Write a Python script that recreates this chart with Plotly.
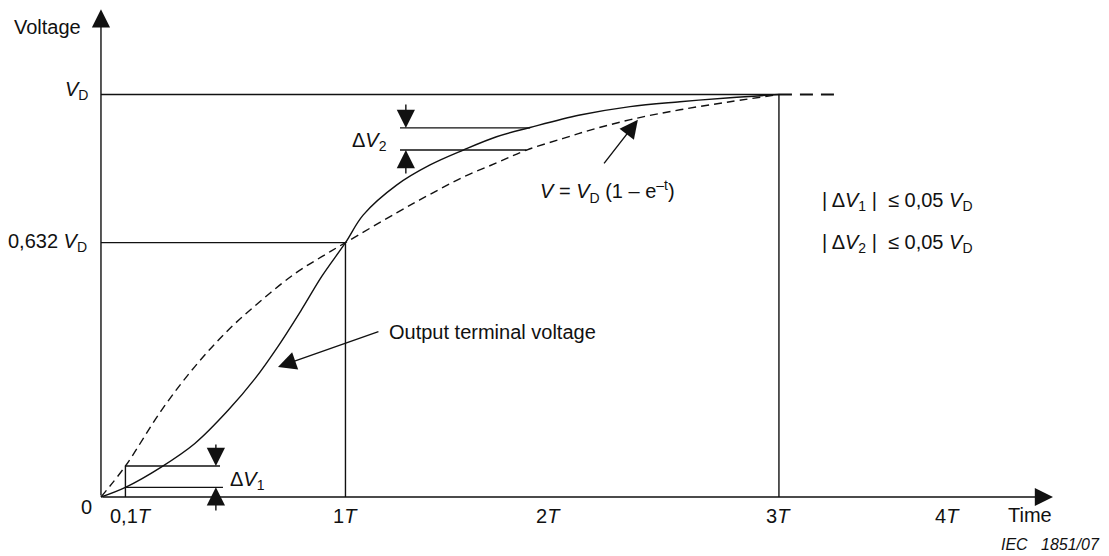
import plotly.graph_objects as go

# ---------------- data (schematic units: x in T, y in fractions of V_D) ----------------
VD = 1.0
V632 = 0.632
T01, T1, T2, T3, T4 = 0.1, 1.0, 1.83, 2.773, 3.464
tick_pos = [T01, T1, T2, T3, T4]
tick_labels = ["0,1<i>T</i>", "1<i>T</i>", "2<i>T</i>", "3<i>T</i>", "4<i>T</i>"]

# dashed reference curve V = VD(1 - e^-t) as drawn
t_ref = [0, 0.1, 0.248, 0.384, 0.521, 0.657, 0.793, 0.903, 1.0, 1.209, 1.346, 1.482,
         1.618, 1.741, 1.891, 2.027, 2.191, 2.368, 2.573, 2.773]
v_ref = [0, 0.077, 0.216, 0.324, 0.415, 0.489, 0.555, 0.597, 0.632, 0.706, 0.752, 0.795,
         0.830, 0.862, 0.891, 0.916, 0.941, 0.962, 0.982, 1.0]

# solid output terminal voltage
t_out = [0, 0.1, 0.248, 0.384, 0.521, 0.630, 0.725, 0.821, 0.903, 1.0, 1.073, 1.209,
         1.346, 1.482, 1.618, 1.755, 1.959, 2.164, 2.368, 2.573, 2.773]
v_out = [0, 0.024, 0.075, 0.133, 0.216, 0.294, 0.375, 0.466, 0.548, 0.632, 0.701, 0.775,
         0.825, 0.862, 0.895, 0.918, 0.949, 0.970, 0.982, 0.992, 1.0]

# dashed continuation beyond 3T
ext_x = [T3, 3.03]

# delta V1 markers
dv1_hi, dv1_lo = 0.077, 0.024
dv1_hi_end, dv1_lo_end = 0.487, 0.499
dv1_arrow_x = 0.470
dv1_tail_top, dv1_tail_bot = 0.134, -0.037

# delta V2 markers
dv2_hi, dv2_lo = 0.917, 0.862
dv2_start = 1.223
dv2_hi_end, dv2_lo_end = 1.755, 1.741
dv2_arrow_x = 1.247
dv2_tail_top, dv2_tail_bot = 0.979, 0.800

# axis extents
x_axis_end = 3.894
y_axis_end = 1.212

FONT = "Liberation Sans, Arial, Helvetica, sans-serif"
INK = "#111111"
LW = 1.4

fig = go.Figure()

def line(xs, ys, dash="solid", width=LW, shape="linear"):
    fig.add_trace(go.Scatter(x=xs, y=ys, mode="lines", hoverinfo="skip", showlegend=False,
                             line=dict(color=INK, width=width, dash=dash, shape=shape,
                                       smoothing=1.0 if shape == "spline" else None)))

# curves
line(t_ref, v_ref, dash="8px,5px", shape="spline")
line(t_out, v_out, shape="spline")
line(ext_x, [VD, VD], dash="13px,8px", width=1.8)

# reference lines
line([0, T3], [VD, VD])
line([0, T1], [V632, V632])
line([T1, T1], [0, V632])
line([T3, T3], [0, VD])
line([T01, T01], [0, dv1_hi])
line([T01, dv1_hi_end], [dv1_hi, dv1_hi])
line([T01, dv1_lo_end], [dv1_lo, dv1_lo])
line([dv2_start, dv2_hi_end], [dv2_hi, dv2_hi])
line([dv2_start, dv2_lo_end], [dv2_lo, dv2_lo])

annotations = []

def arrow(x0, y0, x1, y1, size=2.6):
    annotations.append(dict(x=x1, y=y1, ax=x0, ay=y0, xref="x", yref="y", axref="x", ayref="y",
                            text="", showarrow=True, arrowhead=2, arrowsize=size,
                            arrowwidth=LW, arrowcolor=INK, standoff=0, startstandoff=0))

# axes
arrow(0, 0, x_axis_end, 0)
arrow(0, 0, 0, y_axis_end)
# delta arrows
arrow(dv1_arrow_x, dv1_tail_top, dv1_arrow_x, dv1_hi)
arrow(dv1_arrow_x, dv1_tail_bot, dv1_arrow_x, dv1_lo)
arrow(dv2_arrow_x, dv2_tail_top, dv2_arrow_x, dv2_hi)
arrow(dv2_arrow_x, dv2_tail_bot, dv2_arrow_x, dv2_lo)
# pointers
arrow(2.053, 0.825, 2.196, 0.937, size=2.6)
arrow(1.141, 0.412, 0.724, 0.323, size=2.6)

def text(x, y, s, xanchor="center", size=20, italic=False, xshift=0):
    annotations.append(dict(x=x, y=y, xref="x", yref="y", text=s, showarrow=False,
                            xanchor=xanchor, yanchor="middle", xshift=xshift,
                            font=dict(family=FONT, size=size, color=INK,
                                      style="italic" if italic else "normal")))

text(-0.217, 1.168, "Voltage")
text(-0.045, 1.009, "<i>V</i><sub>D</sub>", xanchor="right")
text(-0.049, V632, "0,632 <i>V</i><sub>D</sub>", xanchor="right")
text(-0.059, -0.025, "0")
for i, (p, lab) in enumerate(zip(tick_pos, tick_labels)):
    text(p, -0.047, lab, xshift=6 if i == 0 else 0)
text(3.80, -0.045, "Time")
text(4.094, -0.119, "IEC&#160;&#160;&#160;1851/07", xanchor="right", size=16, italic=True)
text(0.519, 0.042, "Δ<i>V</i><sub>1</sub>", xanchor="left")
text(1.178, 0.884, "Δ<i>V</i><sub>2</sub>", xanchor="right")
text(1.787, 0.758, "<i>V</i> = <i>V</i><sub>D</sub> (1 – e<sup>–t</sup>)", xanchor="left")
text(1.170, 0.410, "Output terminal voltage", xanchor="left")
text(2.941, 0.735, "| Δ<i>V</i><sub>1</sub> |  ≤ 0,05 <i>V</i><sub>D</sub>", xanchor="left")
text(2.941, 0.631, "| Δ<i>V</i><sub>2</sub> |  ≤ 0,05 <i>V</i><sub>D</sub>", xanchor="left")

fig.update_layout(
    width=1109, height=556, margin=dict(l=0, r=0, t=0, b=0),
    paper_bgcolor="white", plot_bgcolor="white",
    xaxis=dict(range=[-0.413, 4.123], visible=False, fixedrange=True),
    yaxis=dict(range=[-0.1466, 1.2348], visible=False, fixedrange=True),
    annotations=annotations, showlegend=False,
)

fig.write_html("out.html")
